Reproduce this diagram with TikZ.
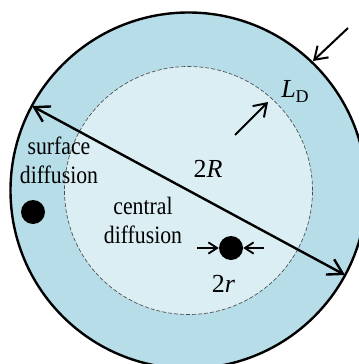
\documentclass[tikz,border=0pt]{standalone}
\usepackage{fontspec}
\setmainfont[FakeStretch=0.87]{Liberation Serif}
\newfontfamily\mathlike{Liberation Serif}
\usetikzlibrary{arrows.meta}
\definecolor{outerblue}{HTML}{B7DEE8}
\definecolor{innerblue}{HTML}{DBEEF3}
\begin{document}
\begin{tikzpicture}[x=0.75pt,y=-0.75pt,
  lbl/.style={inner sep=0pt,anchor=base,font=\fontsize{18.75}{21.5}\selectfont,align=center},
  sym/.style={inner sep=0pt,anchor=base,font=\mathlike\fontsize{19.5}{21.5}\selectfont},
  bigarrow/.style={line width=1.8pt,{Straight Barb[length=11pt,width=13pt]}-{Straight Barb[length=11pt,width=13pt]}},
  ldarrow/.style={line width=1.5pt,-{Straight Barb[length=9pt,width=12pt]}},
  dotarrow/.style={line width=1.4pt,-{Straight Barb[length=6.5pt,width=8.5pt]}},
  dot/.style={circle,fill=black,minimum size=18pt,inner sep=0pt}]
\useasboundingbox (0,0) rectangle (359,364);
\clip (0,0) rectangle (359,364);
\coordinate (c) at (188.5,190.5);
\fill[white] (0,0) rectangle (359,364);
\draw[fill=outerblue,line width=1.8pt] (c) circle[radius=133.5pt];
\draw[fill=innerblue,draw=black!70,line width=0.5pt,dash pattern=on 3pt off 1.5pt] (c) circle[radius=93pt];
% diameter
\coordinate (d1) at (32,106);
\coordinate (d2) at (345,275);
\draw[bigarrow] (d1) -- (d2);
% L_D arrows
\coordinate (o1) at (348,28);
\coordinate (o2) at (313,61);
\draw[ldarrow] (o1) -- (o2);
\coordinate (i1) at (235,135);
\coordinate (i2) at (268,102);
\draw[ldarrow] (i1) -- (i2);
% dots
\node[dot] (sdot) at (33,212) {};
\node[dot] (cdot) at (231,248) {};
\coordinate (la) at (197,248);
\coordinate (ra) at (264,248);
\draw[dotarrow] (la) -- (cdot.west);
\draw[dotarrow] (ra) -- (cdot.east);
% labels
\node[lbl] (surf) at (59,183) {surface\\diffusion};
\node[lbl] (cent) at (143,243) {central\\diffusion};
\node[sym] (twoR) at (208,177) {2\textit{R}};
\node[sym,anchor=base west] (ld) at (281,97) {\textit{L}\raisebox{-0.2em}{\fontsize{13.5}{13.5}\selectfont D}};
\node[sym] (twor) at (223.5,292) {2\textit{r}};
\end{tikzpicture}
\end{document}
